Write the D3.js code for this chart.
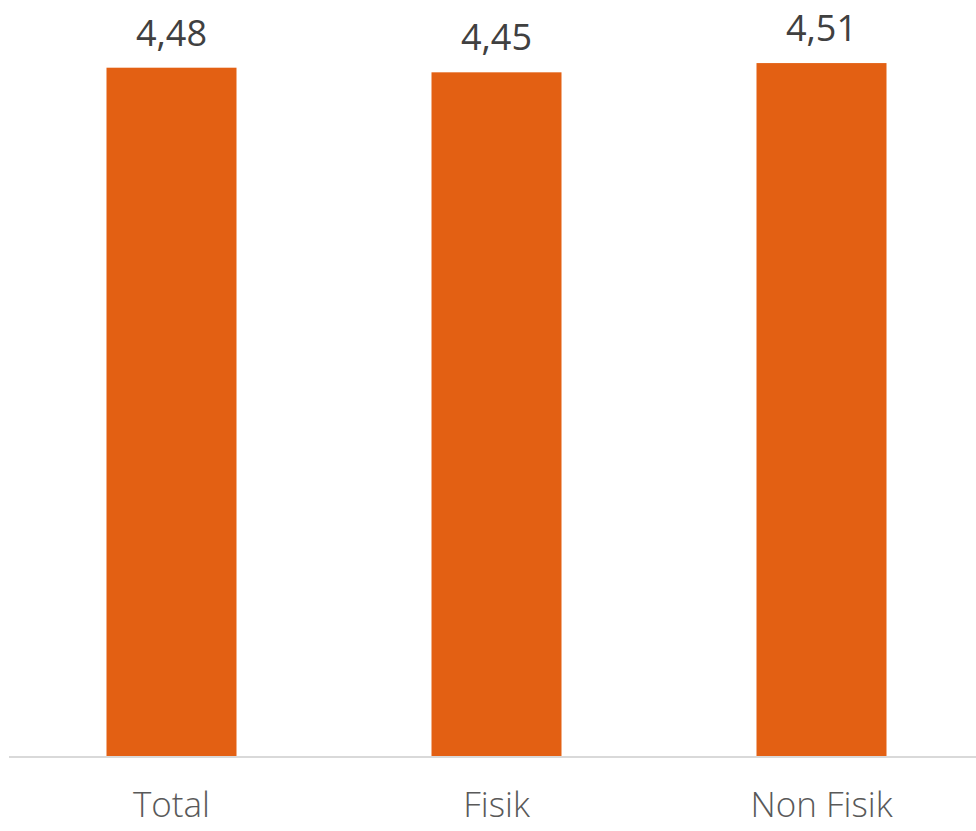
<!DOCTYPE html>
<html>
<head>
<meta charset="utf-8">
<script src="https://cdn.jsdelivr.net/npm/d3@7"></script>
<style>
  html, body { margin: 0; padding: 0; background: #fff; }
  svg { display: block; }
</style>
</head>
<body>
<svg id="chart" width="976" height="831"></svg>
<script>
// Categories and their scores
const categories = ["Total", "Fisik", "Non Fisik"];
const values = [4.48, 4.45, 4.51];

const width = 976, height = 831;
const baseline = 757;

const svg = d3.select("#chart");

const x = d3.scaleBand()
  .domain(categories)
  .range([9, 984])
  .paddingInner(0.6)
  .paddingOuter(0.3);

const y = d3.scaleLinear()
  .domain([0, 4.92])
  .range([baseline, 0]);

const fmt = v => d3.format(".2f")(v).replace(".", ",");

// Bars
svg.selectAll("rect.bar")
  .data(categories)
  .join("rect")
  .attr("class", "bar")
  .attr("x", d => x(d))
  .attr("width", x.bandwidth())
  .attr("y", (d, i) => y(values[i]))
  .attr("height", (d, i) => baseline - y(values[i]))
  .attr("fill", "#E36013");

// Baseline axis with category labels
const axis = svg.append("g")
  .attr("transform", `translate(0,${baseline})`)
  .call(d3.axisBottom(x).tickSize(0).tickPadding(35));
axis.select(".domain").attr("stroke", "#D9D9D9").attr("stroke-width", 2)
  .attr("d", `M9,0H976`);
axis.selectAll("text")
  .attr("font-family", "'Open Sans', sans-serif")
  .attr("font-weight", 300)
  .attr("font-size", 35)
  .attr("fill", "#595959");

// Value labels
svg.selectAll("text.val")
  .data(categories)
  .join("text")
  .attr("class", "val")
  .attr("x", d => x(d) + x.bandwidth() / 2)
  .attr("y", (d, i) => y(values[i]) - 22)
  .attr("text-anchor", "middle")
  .attr("font-family", "'Open Sans', sans-serif")
  .attr("font-size", 36)
  .attr("fill", "#404040")
  .text((d, i) => fmt(values[i]));
</script>
</body>
</html>
